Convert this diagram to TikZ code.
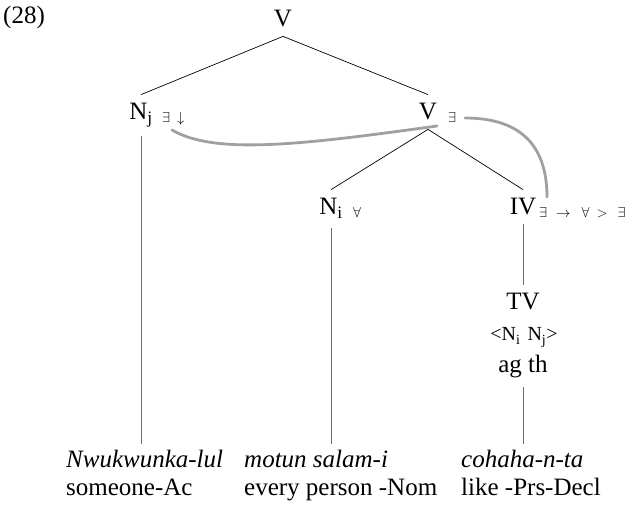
\documentclass[tikz,border=0pt]{standalone}
\usepackage{fontspec}
\setmainfont{Liberation Serif}
\usepackage{xcolor}
\definecolor{linkgray}{RGB}{160,160,160}
\definecolor{stemgray}{RGB}{110,110,110}

\begin{document}
\begin{tikzpicture}[x=1pt,y=-1pt,
  cat/.style={inner sep=0pt, outer sep=9pt, anchor=base, font=\fontsize{25}{30}\selectfont},
  quant/.style={inner sep=0pt, anchor=base west, font=\fontsize{15}{17}\selectfont},
  word/.style={inner sep=0pt, anchor=base west, font=\fontsize{25}{30}\selectfont},
  branch/.style={line width=0.7pt},
  stem/.style={line width=0.8pt, color=stemgray},
  link/.style={color=linkgray, line width=2.8pt, line cap=round}]
\useasboundingbox (0,0) rectangle (633,510);

%tree
\node[word] (exno) at (3,24) {(28)};
\node[cat] (vtop) at (283,27) {V};
\node[cat] (nj) at (141,120) {N\textsubscript{j}};
\node[cat] (vr) at (428,120) {V};
\node[cat] (ni) at (331,215) {N\textsubscript{i}};
\node[cat] (iv) at (523,215) {IV};
\node[cat] (tv) at (523,310) {TV};
\node[cat, font=\fontsize{20}{22}\selectfont] (args) at (524,341) {<N\textsubscript{i}\hspace{7pt}N\textsubscript{j}>};
\node[cat] (roles) at (523,373) {ag th};
\coordinate (bot) at (0,444);

%scope marks
\node[quant] (njq) at (162,123) {$\exists$\hspace{7pt}$\downarrow$};
\node[quant] (vrq) at (448,123) {$\exists$};
\node[quant] (niq) at (353,218) {$\forall$};
\node[quant] (ivq) at (539,218) {$\exists$\hspace{9pt}$\rightarrow$\hspace{11pt}$\forall$\hspace{7pt}$>$\hspace{10pt}$\exists$};

\draw[branch] (vtop.south) -- (nj.north);
\draw[branch] (vtop.south) -- (vr.north);
\draw[branch] (vr.south) -- (ni.north);
\draw[branch] (vr.south) -- (iv.north);
\draw[stem] (iv.south) -- (tv.north);
\draw[stem] (nj.south) -- (nj.south |- bot);
\draw[stem] (ni.south) -- (ni.south |- bot);
\draw[stem] (roles.south) -- (roles.south |- bot);

%links
\coordinate (l1a) at (172,130);
\coordinate (l1b) at (437,126);
\coordinate (l2a) at (465,118);
\coordinate (l2b) at (547,197);
\draw[link] (l1a) .. controls (215,155) and (300,145) .. (l1b);
\draw[link] (l2a) .. controls (525,118) and (547,150) .. (l2b);

%words
\node[word, font=\fontsize{25}{30}\selectfont\itshape] (w1) at (66,468) {Nwukwunka-lul};
\node[word] (g1) at (66,496) {someone-Ac};
\node[word, font=\fontsize{25}{30}\selectfont\itshape] (w2) at (244,468) {motun salam-i};
\node[word] (g2) at (244,496) {every person -Nom};
\node[word, font=\fontsize{25}{30}\selectfont\itshape] (w3) at (461,468) {cohaha-n-ta};
\node[word] (g3) at (461,496) {like -Prs-Decl};
\end{tikzpicture}
\end{document}
